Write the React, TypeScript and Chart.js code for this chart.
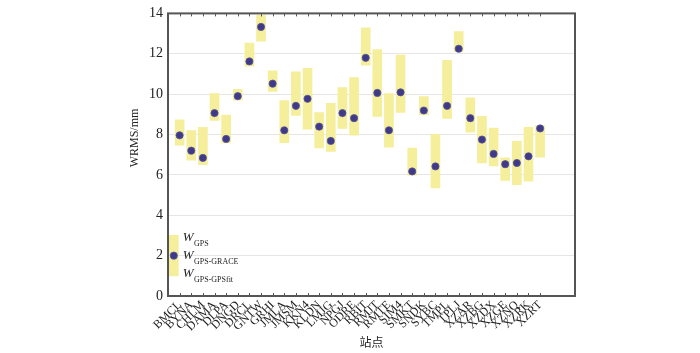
import { useEffect, useRef } from "react";
import { Chart, registerables } from "chart.js";
Chart.register(...registerables);

const stations = ["BMCL","BYNA","CHLM","DAMA","DLPA","DNGD","DRCL","GNTW","GRHI","JMLA","JMSM","KKN4","KLDN","LMJG","NPGJ","ODRE","RBIT","RMJT","RMTE","SIM4","SMKT","SNDK","SYBC","TMPL","TPLJ","XZAR","XZBG","XZDX","XZGE","XZNQ","XZRK","XZRT"];
// bar top
const wGps = [8.73,8.19,8.35,10.03,8.96,10.24,12.53,13.91,11.15,9.68,11.10,11.28,9.09,9.54,10.33,10.82,13.28,12.21,10.03,11.94,7.33,9.88,8.01,11.67,13.10,9.82,8.90,8.32,6.84,7.66,8.35,8.44];
// point
const wGpsGrace = [7.96,7.20,6.84,9.06,7.78,9.90,11.62,13.33,10.52,8.21,9.42,9.77,8.39,7.68,9.06,8.81,11.80,10.06,8.21,10.09,6.17,9.19,6.42,9.42,12.25,8.81,7.75,7.04,6.53,6.59,6.92,8.30];
// bar bottom
const wGpsGpsfit = [7.47,6.73,6.51,8.70,7.58,9.70,11.39,12.63,10.13,7.60,8.95,8.27,7.33,7.16,8.30,7.97,11.44,8.90,7.37,9.09,5.99,8.98,5.36,8.80,12.10,8.12,6.59,6.45,5.73,5.51,5.69,6.88];

// legend sample (drawn in data space)
const legendX = -0.5;
const legendBar = [1, 3];
const legendPoint = 2;
const legendRows = [2.93, 2.05, 1.12];
const legendSubs = ["GPS", "GPS-GRACE", "GPS-GPSfit"];

const yTicks = [0, 2, 4, 6, 8, 10, 12, 14];

const BAR = "#F5EE9B";
const DOT = "#3F3A88";
const SERIF = "'Liberation Serif', 'Times New Roman', serif";

const framePlugin = {
  id: "frame",
  afterDraw(chart: any) {
    const { ctx, chartArea: a, scales } = chart;
    const x = scales.x, y = scales.y;
    ctx.save();
    ctx.strokeStyle = "#555";
    ctx.lineWidth = 1;
    stations.forEach((_, i) => {
      const px = Math.round(x.getPixelForValue(i)) + 0.5;
      ctx.beginPath();
      ctx.moveTo(px, a.bottom); ctx.lineTo(px, a.bottom - 3);
      ctx.moveTo(px, a.top); ctx.lineTo(px, a.top + 3);
      ctx.stroke();
    });
    ctx.lineWidth = 2;
    ctx.strokeRect(a.left, a.top, a.right - a.left, a.bottom - a.top);

    // axis titles
    ctx.fillStyle = "#222";
    ctx.font = `12px ${SERIF}`;
    ctx.textAlign = "center";
    ctx.textBaseline = "middle";
    ctx.save();
    ctx.translate(135, 138);
    ctx.rotate(-Math.PI / 2);
    ctx.fillText("WRMS/mm", 0, 0);
    ctx.restore();
    ctx.font = `12px 'Noto Sans CJK SC', sans-serif`;
    ctx.fillText("站点", (a.left + a.right) / 2, 342);

    // legend text
    ctx.textAlign = "left";
    ctx.textBaseline = "alphabetic";
    const tx = x.getPixelForValue(0) + 3;
    legendRows.forEach((v, i) => {
      const by = y.getPixelForValue(v) + 4;
      ctx.font = `italic 13px ${SERIF}`;
      ctx.fillText("W", tx, by);
      const w = ctx.measureText("W").width;
      ctx.font = `8px ${SERIF}`;
      ctx.fillText(legendSubs[i], tx + w + 0.5, by + 5);
    });
    ctx.restore();
  },
};

export default function App() {
  const ref = useRef<HTMLCanvasElement | null>(null);
  useEffect(() => {
    if (!ref.current) return;
    const barData = stations.map((_, i) => ({ x: i, y: [wGpsGpsfit[i], wGps[i]] }));
    barData.unshift({ x: legendX, y: legendBar });
    const ptData = stations.map((_, i) => ({ x: i, y: wGpsGrace[i] }));
    ptData.unshift({ x: legendX, y: legendPoint });
    const chart = new Chart(ref.current, {
      type: "bar",
      data: {
        datasets: [
          {
            type: "scatter",
            data: ptData,
            backgroundColor: DOT,
            borderColor: "#57529c",
            borderWidth: 0.8,
            pointRadius: 3.6,
            order: 1,
          } as any,
          {
            type: "bar",
            data: barData as any,
            backgroundColor: BAR,
            borderWidth: 0,
            barThickness: 9,
            order: 2,
          } as any,
        ],
      },
      options: {
        animation: false,
        responsive: true,
        maintainAspectRatio: false,
        layout: { padding: { left: 0, right: 125, top: 11, bottom: 0 } },
        plugins: { legend: { display: false }, tooltip: { enabled: false } },
        scales: {
          x: {
            type: "linear",
            min: -1,
            max: 34,
            offset: false,
            grid: { display: false, drawTicks: false },
            border: { display: false },
            afterBuildTicks: (s: any) => {
              s.ticks = stations.map((_, i) => ({ value: i }));
            },
            afterFit: (s: any) => { s.height = 57; },
            ticks: {
              autoSkip: false,
              minRotation: 45,
              maxRotation: 45,
              padding: 2,
              color: "#222",
              font: { family: SERIF, size: 12 },
              callback: (v: any) => stations[v] ?? "",
            },
          },
          y: {
            min: 0,
            max: 14,
            afterBuildTicks: (s: any) => {
              s.ticks = yTicks.map((v) => ({ value: v }));
            },
            afterFit: (s: any) => { s.width = 168; },
            grid: { color: "#e6e6e6", drawTicks: false, lineWidth: 1 },
            border: { display: false },
            ticks: {
              padding: 5,
              color: "#222",
              font: { family: SERIF, size: 14 },
            },
          },
        },
      },
      plugins: [framePlugin],
    });
    return () => chart.destroy();
  }, []);
  return (
    <div style={{ position: "fixed", left: 0, top: 0, width: 700, height: 353, background: "#fff" }}>
      <canvas ref={ref} />
    </div>
  );
}
